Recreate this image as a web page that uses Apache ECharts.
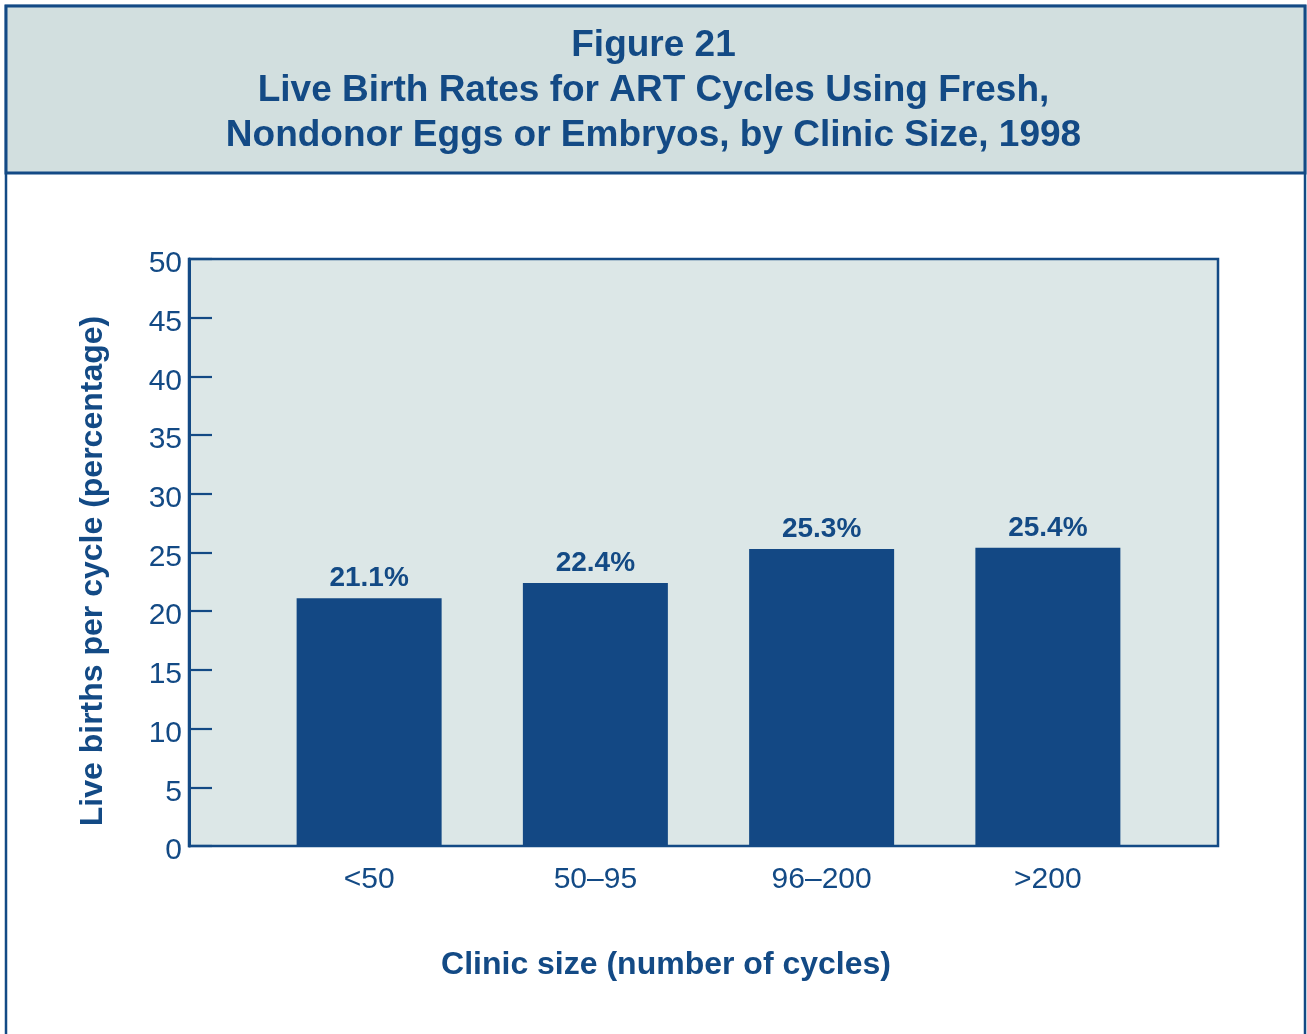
<!DOCTYPE html>
<html>
<head>
<meta charset="utf-8">
<script src="https://cdn.jsdelivr.net/npm/echarts@6/dist/echarts.min.js"></script>
<style>
  html, body { margin: 0; padding: 0; background: #fff; }
  #chart { width: 1307px; height: 1034px; }
</style>
</head>
<body>
<div id="chart"></div>
<script>
// data
const categories = ['<50', '50\u201395', '96\u2013200', '>200'];
const birthRates = [21.1, 22.4, 25.3, 25.4];
const yTicks = [0, 5, 10, 15, 20, 25, 30, 35, 40, 45, 50];

const navy = '#134a85';
const font = 'Liberation Sans, Arial, Helvetica, sans-serif';

const myChart = echarts.init(document.getElementById('chart'));

myChart.setOption({
  backgroundColor: '#fff',
  animation: false,
  title: {
    text: 'Figure 21\nLive Birth Rates for ART Cycles Using Fresh,\nNondonor Eggs or Embryos, by Clinic Size, 1998',
    left: 'center',
    top: 18,
    textStyle: {
      color: navy,
      fontFamily: font,
      fontWeight: 'bold',
      fontSize: 37,
      lineHeight: 45
    }
  },
  graphic: [
    {
      type: 'rect',
      z: -100,
      silent: true,
      shape: { x: 6, y: 6, width: 1299, height: 1060 },
      style: { fill: '#fff', stroke: navy, lineWidth: 2.5 }
    },
    {
      type: 'rect',
      z: -99,
      silent: true,
      shape: { x: 6, y: 6, width: 1299, height: 167 },
      style: { fill: '#d2dfdf', stroke: navy, lineWidth: 3 }
    },
    {
      type: 'text',
      x: 93,
      y: 571,
      rotation: Math.PI / 2,
      style: {
        text: 'Live births per cycle (percentage)',
        fill: navy,
        font: 'bold 32px ' + font,
        align: 'center',
        verticalAlign: 'middle'
      }
    },
    {
      type: 'text',
      x: 666,
      y: 965,
      style: {
        text: 'Clinic size (number of cycles)',
        fill: navy,
        font: 'bold 32px ' + font,
        align: 'center',
        verticalAlign: 'middle'
      }
    }
  ],
  grid: [
    {
      // plot frame with the value axis
      left: 189, right: 89, top: 259, bottom: 188,
      show: true,
      backgroundColor: '#dce7e7',
      borderColor: navy,
      borderWidth: 2.5
    },
    {
      // bars sit in a narrower band inside the frame
      left: 256, right: 146, top: 259, bottom: 188
    }
  ],
  xAxis: [
    {
      gridIndex: 0,
      type: 'value',
      min: 0, max: 1,
      show: false
    },
    {
      gridIndex: 1,
      type: 'category',
      data: categories,
      axisLine: { show: false },
      axisTick: { show: false },
      axisLabel: {
        color: navy,
        fontFamily: font,
        fontSize: 30,
        margin: 19
      }
    }
  ],
  yAxis: [
    {
      gridIndex: 0,
      type: 'value',
      min: yTicks[0],
      max: yTicks[yTicks.length - 1],
      interval: 5,
      axisLine: { show: true, lineStyle: { color: navy, width: 3 } },
      axisTick: { show: true, inside: true, length: 23, lineStyle: { color: navy, width: 2.2 } },
      splitLine: { show: false },
      axisLabel: {
        color: navy,
        fontFamily: font,
        fontSize: 30,
        margin: 7,
        verticalAlign: 'top',
        lineHeight: 10
      }
    },
    {
      gridIndex: 1,
      type: 'value',
      min: 0, max: 50,
      show: false
    }
  ],
  series: [
    {
      type: 'bar',
      xAxisIndex: 1,
      yAxisIndex: 1,
      data: birthRates,
      barWidth: 145,
      itemStyle: { color: '#134884' },
      label: {
        show: true,
        position: 'top',
        distance: 6,
        formatter: '{c}%',
        color: navy,
        fontFamily: font,
        fontWeight: 'bold',
        fontSize: 28
      }
    }
  ]
});
</script>
</body>
</html>
